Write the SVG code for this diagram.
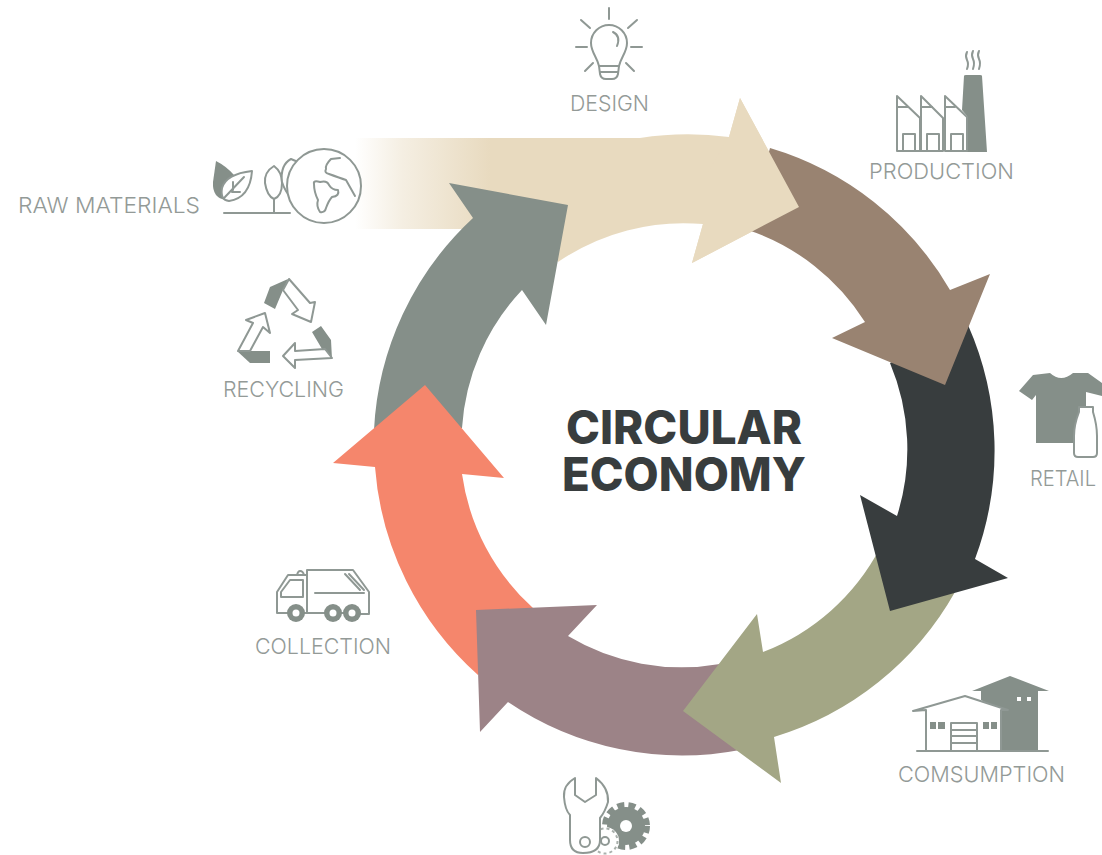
<svg xmlns="http://www.w3.org/2000/svg" width="1102" height="855" viewBox="0 0 1102 855">
<style>
.lbl{font-family:"Inter","Liberation Sans",sans-serif;font-weight:300;font-size:22px;fill:#939a97}
.ttl{font-family:"Inter","Liberation Sans",sans-serif;font-weight:800;font-size:46px;fill:#383d3e}
.ln{fill:none;stroke:#8f9894;stroke-width:2;stroke-linecap:round;stroke-linejoin:round}
.lw{fill:#fff;stroke:#8f9894;stroke-width:2;stroke-linejoin:round;stroke-linecap:round}
.sf{fill:#858f89}
.wf{fill:#fff}
</style>
<defs>
<linearGradient id="fade" gradientUnits="userSpaceOnUse" x1="355" y1="0" x2="490" y2="0">
<stop offset="0" stop-color="#e8dabf" stop-opacity="0"/>
<stop offset="0.35" stop-color="#e8dabf" stop-opacity="0.45"/>
<stop offset="1" stop-color="#e8dabf"/>
</linearGradient>
<path id="beigeHead" d="M729 137L740 98L799 207L692 263L703 224L703 180Z"/>
</defs>
<rect width="1102" height="855" fill="#fff"/>
<g id="connectors">
<path id="arrow-design" fill="url(#fade)" d="M350 138H640A310 310 0 0 1 729 137L740 98L799 207L692 263L703 224A222 222 0 0 0 558 262L540 229H350Z"/>
<path id="arrow-recycling" fill="#858f89" d="M374 430A310 310 0 0 1 473 218L449 183L568 205L546 325L522 290A222 222 0 0 0 462 428Z"/>
<path id="arrow-collection" fill="#f5866c" d="M478 675A310 310 0 0 1 375 467L333 463L425 385L504 478L462 474A222 222 0 0 0 533 608Z"/>
<path id="arrow-mauve" fill="#9c8387" d="M740 750A310 310 0 0 1 508 702L480 732L476 610L597 605L568 636A222 222 0 0 0 720 664Z"/>
<path id="arrow-consumption" fill="#a3a685" d="M955 592A310 310 0 0 1 774 737L781 783L683 711L757 614L763 652A222 222 0 0 0 880 548Z"/>
<path id="arrow-retail" fill="#383d3e" d="M968 325A310 310 0 0 1 975 559L1008 578L890 611L860 495L897 516A222 222 0 0 0 890 363Z"/>
<path id="arrow-production" fill="#998371" d="M770 148A310 310 0 0 1 950 290L990 274L945 385L832 338L865 322A222 222 0 0 0 748 230Z"/>
<use href="#beigeHead" fill="#e8dabf"/>
</g>
<g id="title">
<text class="ttl" x="684" y="444" text-anchor="middle" textLength="236" lengthAdjust="spacingAndGlyphs">CIRCULAR</text>
<text class="ttl" x="684" y="491" text-anchor="middle" textLength="244" lengthAdjust="spacingAndGlyphs">ECONOMY</text>
</g>
<g id="node-design">
<path class="ln" d="M609 8V19M581 20L590 28M637 20L628 28M576 47H587M631 47H642M585 71L593 63M634 71L626 63"/>
<path class="ln" d="M599 66C597 57 591 52 591 43A18 18 0 0 1 627 43C627 52 621 57 619 66Z"/>
<path class="ln" d="M599 66L600 74Q601 79 606 79H612Q617 79 618 74L619 66M600 72H618M613 32Q621 36 617 46"/>
<text class="lbl" x="570" y="111" textLength="79" lengthAdjust="spacingAndGlyphs">DESIGN</text>
</g>
<g id="node-production">
<path class="sf" d="M964 76Q964 75 966 75H980Q982 75 982 76L987 152H967V116L962 110Z"/>
<path class="ln" d="M967 52Q965 56 967 60T967 69M973 51Q971 55 973 59T973 69M979 51Q977 55 979 59T979 69"/>
<path class="lw" d="M897 151V96L920 118V151ZM921 151V96L943 118V151ZM945 151V96L967 117V151Z"/>
<path class="ln" d="M898 107H908M922 107H932M945 107H955M903 151V134H915V151M927 151V134H939V151M951 151V134H963V151"/>
<text class="lbl" x="869" y="179" textLength="145" lengthAdjust="spacingAndGlyphs">PRODUCTION</text>
</g>
<g id="node-retail">
<path class="sf" d="M1019 391L1033 375L1050 373Q1061 383 1073 373L1088 373L1102 383V396L1086 392V443H1036V395L1032 400Z"/>
<path class="lw" d="M1079 407H1093V412Q1097 425 1097 436V453Q1097 457 1093 457H1078Q1074 457 1074 453V436Q1074 425 1079 412Z"/>
<text class="lbl" x="1030" y="486" textLength="66" lengthAdjust="spacingAndGlyphs">RETAIL</text>
</g>
<g id="node-consumption">
<path class="sf" d="M972 691L1010 676L1049 691H1038V751H1002V712L981 700V691Z"/>
<rect class="wf" x="1017" y="697" width="4" height="4"/>
<rect class="wf" x="1027" y="697" width="4" height="4"/>
<path class="lw" d="M913 711L965 696L1008 710H1001V751H926V710Z"/>
<path class="sf" d="M930 722h6v7h-6zM938 722h7v7h-7zM983 722h6v7h-6zM991 722h6v7h-6z"/>
<path class="ln" d="M951 750V723H977V750M951 730H977M951 736H977M951 743H977M917 751H1048"/>
<text class="lbl" x="898" y="782" textLength="167" lengthAdjust="spacingAndGlyphs">COMSUMPTION</text>
</g>
<g id="node-maintenance">
<circle cx="626" cy="826" r="19" class="sf"/>
<circle cx="626" cy="826" r="21" fill="none" stroke="#858f89" stroke-width="6" stroke-dasharray="7 4.2"/>
<circle class="wf" cx="626" cy="826" r="6"/>
<circle class="wf" cx="605" cy="841" r="14"/>
<circle cx="605" cy="841" r="12.5" fill="none" stroke="#a9b0ac" stroke-width="2" stroke-dasharray="3 3"/>
<circle class="ln" cx="605" cy="841" r="4"/>
<path class="lw" d="M575 778Q563 785 564 797Q565 810 570 815V840Q570 853 583 853Q600 853 600 840V818Q605 812 608 802Q609 788 596 778V795L585 802L575 795Z"/>
<circle class="ln" cx="585" cy="842" r="5"/>
</g>
<g id="node-collection">
<path class="ln" d="M307 613V570H353L369 592V614H358M346 613H339M327 613H302M290 613H277V592L288 575H307M281 592L290 580H303V597H281ZM315 593H364M345 574L360 590M349 574L364 590M297 575Q298 571 300 571Q303 571 304 575"/>
<circle class="sf" cx="296" cy="613" r="9"/><circle class="wf" cx="296" cy="613" r="3.5"/>
<circle class="sf" cx="333" cy="613" r="9"/><circle class="wf" cx="333" cy="613" r="3.5"/>
<circle class="sf" cx="352" cy="613" r="9"/><circle class="wf" cx="352" cy="613" r="3.5"/>
<text class="lbl" x="255" y="654" textLength="136" lengthAdjust="spacingAndGlyphs">COLLECTION</text>
</g>
<g id="node-recycling">
<path class="sf" d="M264 303L270 287L288 279L283 290L275 309Z"/>
<path class="sf" d="M237 351H270V363H250Z"/>
<path class="sf" d="M312 332L321 326L331 340L332 359L327 358L322 349Z"/>
<path class="lw" d="M289 279L310 303L315 302L311 322L292 314L298 310L283 290Z" stroke-width="1.5"/>
<path class="lw" d="M238 351L253 323L246 320L265 313L270 333L263 327L250 351Z" stroke-width="1.5"/>
<path class="lw" d="M325 349L295 351V343L283 356L295 368V360L332 358Z" stroke-width="1.5"/>
<text class="lbl" x="223" y="397" textLength="121" lengthAdjust="spacingAndGlyphs">RECYCLING</text>
</g>
<g id="node-raw-materials">
<path class="sf" d="M216 161Q226 166 234 175L226 200Q212 198 213 182Z"/>
<path class="lw" d="M252 171Q250 198 229 201Q220 200 222 188Q226 174 252 171ZM225 197L244 177M232 192H240M233 190V182" stroke-width="1.8"/>
<path class="ln" d="M224 213H290M274 213V183"/>
<path class="lw" d="M274 166Q264 172 265 183Q267 196 274 199Q282 196 282 183Q282 172 274 166Z" stroke-width="1.8"/>
<path class="lw" d="M291 159Q280 165 282 182Q285 192 292 198L305 165Z" stroke-width="1.8"/>
<circle class="lw" cx="324" cy="186" r="37"/>
<path class="ln" d="M340 158L331 159Q325 165 326 169Q324 173 329 174Q340 178 346 180L355 196M314 184Q313 180 320 182Q327 180 329 185Q332 190 338 190Q340 196 332 197Q329 200 326 208Q325 213 320 212Q316 206 318 200Q314 192 314 184Z"/>
<text class="lbl" x="18" y="213" textLength="182" lengthAdjust="spacingAndGlyphs">RAW MATERIALS</text>
</g>
</svg>
